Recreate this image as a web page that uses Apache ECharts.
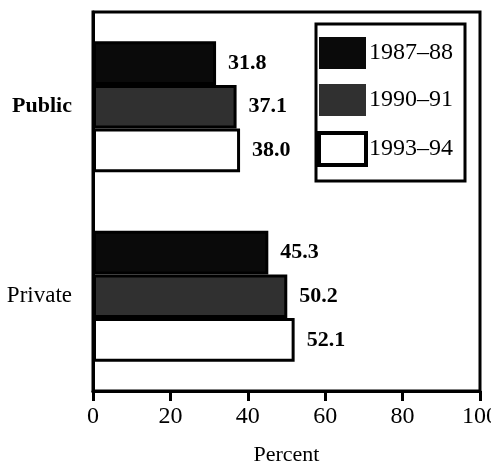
<!DOCTYPE html>
<html>
<head>
<meta charset="utf-8">
<script src="https://cdn.jsdelivr.net/npm/echarts@6/dist/echarts.min.js"></script>
<style>
  html, body { margin: 0; padding: 0; background: #fff; }
  #chart { width: 491px; height: 464px; }
</style>
</head>
<body>
<div id="chart"></div>
<script>
  const categories = ["Public", "Private"];
  const years = ["1987–88", "1990–91", "1993–94"];
  const values1987 = [31.8, 45.3];
  const values1990 = [37.1, 50.2];
  const values1993 = [38.0, 52.1];
  const xTicks = [0, 20, 40, 60, 80, 100];

  const FONT = "Liberation Serif";
  const fills = ["#0a0a0a", "#303030", "#ffffff"];

  const chart = echarts.init(document.getElementById("chart"));

  const makeSeries = (name, data, fill) => ({
    name: name,
    type: "bar",
    data: data,
    barGap: "0%",
    barCategoryGap: "31%",
    itemStyle: {
      color: fill,
      borderColor: "#000",
      borderWidth: 3
    },
    label: {
      show: true,
      position: "right",
      distance: 12,
      fontFamily: FONT,
      fontWeight: "bold",
      fontSize: 22,
      color: "#000",
      formatter: p => p.value.toFixed(1)
    }
  });

  const option = {
    animation: false,
    backgroundColor: "#fff",
    grid: {
      left: 93,
      right: 11,
      top: 12,
      bottom: 73,
      outerBoundsMode: "none",
      containLabel: false,
      show: true,
      borderColor: "#000",
      borderWidth: 3
    },
    legend: {
      orient: "vertical",
      left: 316,
      top: 24,
      padding: [13, 12, 14, 1],
      borderColor: "#000",
      borderWidth: 3,
      itemWidth: 47,
      itemHeight: 32,
      itemGap: 15,
      icon: "rect",
      textStyle: { fontFamily: FONT, fontSize: 24, color: "#000", padding: [0, 0, 0, -2] },
      data: years.map((y, i) => ({
        name: y,
        itemStyle: { color: fills[i], borderColor: "#000", borderWidth: i === 2 ? 4 : 0 }
      }))
    },
    xAxis: {
      type: "value",
      min: 0,
      max: 100,
      interval: 20,
      name: "Percent",
      nameLocation: "middle",
      nameGap: 53,
      nameTextStyle: { fontFamily: FONT, fontSize: 22, color: "#000" },
      axisLine: { show: true, lineStyle: { color: "#000", width: 3 } },
      axisTick: { show: true, length: 10, lineStyle: { color: "#000", width: 3 } },
      axisLabel: {
        fontFamily: FONT, fontSize: 24, color: "#000", margin: 14,
        formatter: v => (xTicks.includes(v) ? String(v) : "")
      },
      splitLine: { show: false }
    },
    yAxis: {
      type: "category",
      data: categories,
      inverse: true,
      axisLine: { show: true, lineStyle: { color: "#000", width: 3 } },
      axisTick: { show: false },
      axisLabel: {
        margin: 21,
        formatter: v => (v === "Public" ? "{b|" + v + "}" : "{n|" + v + "}"),
        rich: {
          b: { fontFamily: FONT, fontSize: 22, fontWeight: "bold", color: "#000" },
          n: { fontFamily: FONT, fontSize: 23, color: "#000" }
        }
      }
    },
    series: [
      makeSeries(years[0], values1987, fills[0]),
      makeSeries(years[1], values1990, fills[1]),
      makeSeries(years[2], values1993, fills[2])
    ]
  };

  chart.setOption(option);
  window.addEventListener("resize", () => chart.resize());
</script>
</body>
</html>
